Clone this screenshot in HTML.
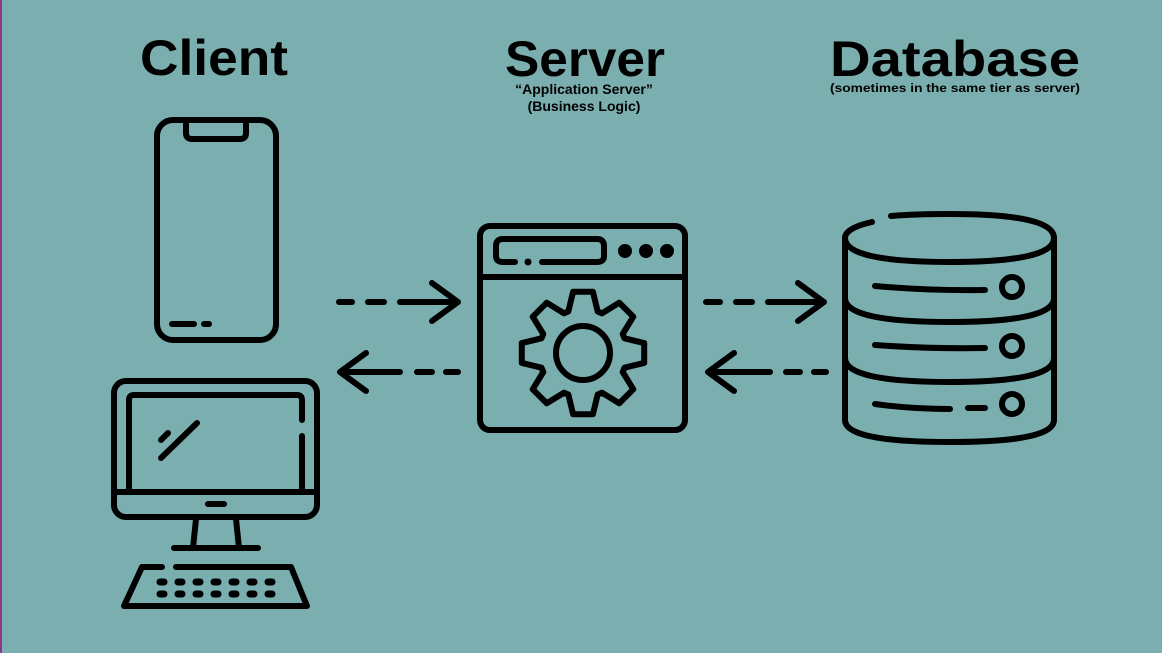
<!DOCTYPE html>
<html><head><style>
html,body{margin:0;padding:0;}
body{width:1162px;height:653px;background:#7bafaf;overflow:hidden;}
svg{display:block;}
text{font-family:"Liberation Sans",sans-serif;font-weight:bold;fill:#000;}
</style></head><body>
<svg width="1162" height="653" viewBox="0 0 1162 653">
<rect x="0" y="0" width="1162" height="653" fill="#7bafaf"/>
<rect x="0" y="0" width="2" height="653" fill="#8a3a8a"/>
<text x="214" y="75" font-size="50" text-anchor="middle" textLength="148" lengthAdjust="spacingAndGlyphs">Client</text>
<text x="585" y="76" font-size="50" text-anchor="middle" textLength="160" lengthAdjust="spacingAndGlyphs">Server</text>
<text x="584" y="94" font-size="14" text-anchor="middle">“Application Server”</text>
<text x="584" y="111" font-size="14" text-anchor="middle">(Business Logic)</text>
<text x="955" y="76" font-size="50" text-anchor="middle" textLength="250" lengthAdjust="spacingAndGlyphs">Database</text>
<text x="955" y="92" font-size="12" text-anchor="middle" textLength="250" lengthAdjust="spacingAndGlyphs">(sometimes in the same tier as server)</text>

<g fill="none" stroke="#000" stroke-width="6" stroke-linecap="round" stroke-linejoin="round">
<!-- phone -->
<rect x="157" y="120" width="119" height="220" rx="16"/>
<path d="M186 122 V133 Q186 139 192 139 H240 Q246 139 246 133 V122"/>
<path d="M172 324 H194 M204 324 H209"/>
<!-- monitor -->
<rect x="114" y="381" width="203" height="136" rx="12"/>
<path d="M302 420 V400 Q302 395 297 395 H134 Q129 395 129 400 V490 M302 436 V490"/>
<path d="M116 492 H315"/>
<path d="M208 504 H224"/>
<path d="M161 458 L197 423 M161 440 L168 433"/>
<path d="M196 519 L193 548 M236 519 L239 548 M174 548 H258"/>
<path d="M162 567 H142 L124 606 H307 L291 567 H176"/>
<g stroke-width="7">
<path d="M160 582 H164 M178 582 H182 M196 582 H200 M214 582 H218 M232 582 H236 M250 582 H254 M268 582 H272"/>
<path d="M160 594 H164 M178 594 H182 M196 594 H200 M214 594 H218 M232 594 H236 M250 594 H254 M268 594 H272"/>
</g>
<!-- server window -->
<rect x="480" y="226" width="205" height="204" rx="10"/>
<path d="M482 277 H683"/>
<path d="M515 262 H503 Q496 262 496 256 V246 Q496 239 503 239 H597 Q604 239 604 246 V256 Q604 262 597 262 H542"/>
<circle cx="583" cy="353" r="27"/>
<path transform="translate(583,353)" d="M-14.7 -41.5 L-9.9 -61.2 L9.9 -61.2 L14.7 -41.5 L19.0 -39.7 L36.3 -50.3 L50.3 -36.3 L39.7 -19.0 L41.5 -14.7 L61.2 -9.9 L61.2 9.9 L41.5 14.7 L39.7 19.0 L50.3 36.3 L36.3 50.3 L19.0 39.7 L14.7 41.5 L9.9 61.2 L-9.9 61.2 L-14.7 41.5 L-19.0 39.7 L-36.3 50.3 L-50.3 36.3 L-39.7 19.0 L-41.5 14.7 L-61.2 9.9 L-61.2 -9.9 L-41.5 -14.7 L-39.7 -19.0 L-50.3 -36.3 L-36.3 -50.3 L-19.0 -39.7 Z"/>
</g>
<g fill="#000">
<circle cx="528" cy="262" r="3.5"/>
<circle cx="625" cy="251" r="7"/><circle cx="646" cy="251" r="7"/><circle cx="667" cy="251" r="7"/>
</g>
<!-- database -->
<g fill="none" stroke="#000" stroke-width="6" stroke-linecap="round">
<path d="M872 222 Q845 228 845 238 Q845 262 950 262 Q1054 262 1054 238 Q1054 214 950 214 Q915 214 891 216"/>
<path d="M845 238 V420 Q845 442 950 442 Q1054 442 1054 420 V238"/>
<path d="M845 298 Q845 322 950 322 Q1054 322 1054 298"/>
<path d="M845 358 Q845 382 950 382 Q1054 382 1054 358"/>
<path d="M875 286 Q930 291 985 290"/>
<path d="M875 345 Q930 349 985 348"/>
<path d="M875 404 Q910 409 950 409 M968 408 H985"/>
<circle cx="1012" cy="287" r="10"/>
<circle cx="1012" cy="346" r="10"/>
<circle cx="1012" cy="404" r="10"/>
</g>
<!-- arrows -->
<g fill="none" stroke="#000" stroke-width="6" stroke-linecap="round" stroke-linejoin="round">
<path d="M339 302 H352 M368 302 H384 M400 302 H458 M432 283 L458 302 L432 321"/>
<path d="M340 372 H400 M366 353 L340 372 L366 391 M417 372 H432 M446 372 H458"/>
<path d="M706 302 H720 M736 302 H752 M768 302 H824 M798 283 L824 302 L798 321"/>
<path d="M708 372 H770 M734 353 L708 372 L734 391 M786 372 H800 M814 372 H826"/>
</g>
</svg>
</body></html>
